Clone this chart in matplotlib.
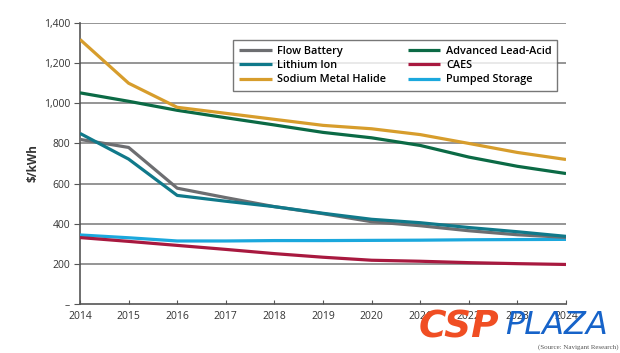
import matplotlib
matplotlib.use("Agg")
import matplotlib.pyplot as plt

years = [2014, 2015, 2016, 2017, 2018, 2019, 2020, 2021, 2022, 2023, 2024]
flow_battery = [820, 780, 577, 530, 485, 450, 410, 390, 365, 345, 332]
lithium_ion = [850, 722, 541, 512, 485, 452, 422, 405, 381, 360, 337]
sodium_metal_halide = [1318, 1100, 980, 950, 920, 890, 873, 844, 800, 755, 720]
advanced_lead_acid = [1052, 1010, 965, 928, 892, 855, 828, 790, 732, 686, 650]
caes = [331, 312, 292, 272, 251, 233, 218, 213, 206, 201, 197]
pumped_storage = [344, 330, 314, 314, 316, 316, 317, 318, 320, 321, 322]

series = [
    ("Flow Battery", flow_battery, "#6d6e71"),
    ("Lithium Ion", lithium_ion, "#10798a"),
    ("Sodium Metal Halide", sodium_metal_halide, "#d79d2c"),
    ("Advanced Lead-Acid", advanced_lead_acid, "#0b6a45"),
    ("CAES", caes, "#a8193f"),
    ("Pumped Storage", pumped_storage, "#1ba8dd"),
]
yticks = [0, 200, 400, 600, 800, 1000, 1200, 1400]
ytick_labels = ["–", "200", "400", "600", "800", "1,000", "1,200", "1,400"]

plt.rcParams['font.family'] = ['Open Sans', 'DejaVu Sans']

fig = plt.figure(figsize=(6.2, 3.53), dpi=100)
ax = fig.add_axes([80/620, 49/353, 486/620, 281/353])

for y in yticks[1:]:
    ax.axhline(y, color="#8c8c8c", lw=1.3, zorder=1)

order = ["Pumped Storage", "CAES", "Flow Battery", "Lithium Ion", "Advanced Lead-Acid", "Sodium Metal Halide"]
handles = {}
for name, vals, col in series:
    ln, = ax.plot(years, vals, color=col, lw=2.3, label=name, zorder=3 + order.index(name),
                  solid_capstyle="butt")
    handles[name] = ln

ax.set_xlim(2014, 2024)
ax.set_ylim(0, 1400)
ax.set_xticks(years)
ax.set_xticklabels([str(y) for y in years], fontsize=7.5, color="#333333")
ax.set_yticks(yticks)
ax.set_yticklabels(ytick_labels, fontsize=7.5, color="#333333")
ax.tick_params(axis="x", direction="in", length=3, color="#555555", pad=5)
ax.tick_params(axis="y", direction="out", length=4, color="#555555", pad=3)
for s in ["top", "right"]:
    ax.spines[s].set_visible(False)
for s in ["left", "bottom"]:
    ax.spines[s].set_color("#555555")
    ax.spines[s].set_linewidth(1.2)
ax.set_ylabel("$/kWh", fontsize=8.5, fontweight="bold", color="#333333", labelpad=3)

leg_names = ["Flow Battery", "Lithium Ion", "Sodium Metal Halide",
             "Advanced Lead-Acid", "CAES", "Pumped Storage"]
leg = ax.legend([handles[n] for n in leg_names], leg_names, ncol=2,
                loc="upper left", bbox_to_anchor=(148/486, 1 - 11.5/281),
                frameon=True, fancybox=False, edgecolor="#555555",
                handlelength=3.0, handletextpad=0.5,
                columnspacing=2.0, labelspacing=0.3, borderpad=0.55,
                prop={"weight": "semibold", "size": 7.8})
leg.get_frame().set_linewidth(1.0)
leg.set_zorder(20)

fig.text(419/620, 1 - 328/353, "CSP", fontsize=27, fontweight="heavy", fontstyle="italic",
         color="#f04e23", va="center", ha="left", family="DejaVu Sans")
fig.text(505/620, 1 - 326/353, "PLAZA", fontsize=23, fontstyle="italic",
         color="#1663c9", va="center", ha="left", family="DejaVu Sans")
fig.text(618/620, 1 - 347/353, "(Source: Navigant Research)", fontsize=5,
         color="#555555", va="center", ha="right", family="Liberation Serif")

fig.savefig("out.png", dpi=100)
